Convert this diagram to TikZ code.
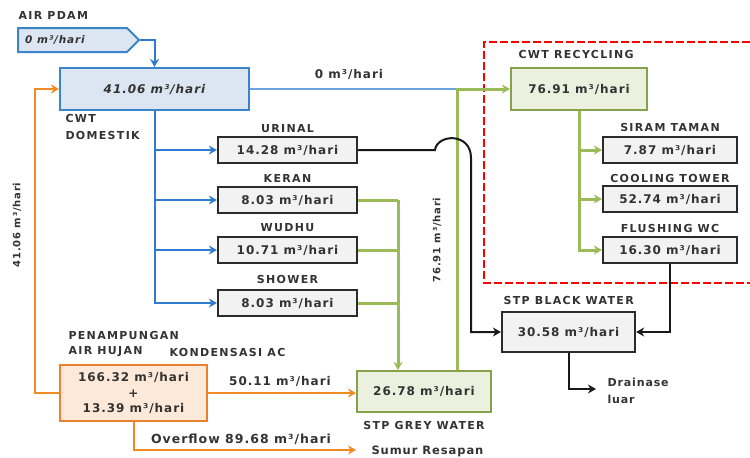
\documentclass[tikz,border=0pt]{standalone}
\usepackage{fontspec}
\setmainfont{DejaVu Sans}
\newfontfamily\vfont[LetterSpace=8]{DejaVu Sans}
\newfontfamily\tfont[LetterSpace=12]{DejaVu Sans}
\usetikzlibrary{arrows.meta,shapes.symbols}
\definecolor{txt}{HTML}{333333}
\definecolor{bline}{HTML}{2E7BCF}
\definecolor{bfill}{HTML}{DCE6F2}
\definecolor{bedge}{HTML}{3A84C9}
\definecolor{gline}{HTML}{9BBB59}
\definecolor{gfill}{HTML}{EBF1DE}
\definecolor{gedge}{HTML}{86A34A}
\definecolor{oline}{HTML}{F08A24}
\definecolor{ofill}{HTML}{FDE9D9}
\definecolor{oedge}{HTML}{E9822E}
\definecolor{grfill}{HTML}{F2F2F2}
\definecolor{gredge}{HTML}{2B2B2B}
\tikzset{
  val/.style={font=\vfont\bfseries\fontsize{12}{14}\selectfont, text=txt},
  vali/.style={font=\vfont\bfseries\itshape\fontsize{12}{14}\selectfont, text=txt},
  ttl/.style={font=\tfont\bfseries\fontsize{11}{13}\selectfont, text=txt},
  sml/.style={font=\vfont\bfseries\fontsize{10}{15}\selectfont, text=txt},
  graybox/.style={draw=gredge, fill=grfill, line width=2.2pt, minimum width=139pt, minimum height=26pt, inner sep=0pt, val},
  bluebox/.style={draw=bedge, fill=bfill, line width=2pt, inner sep=0pt, vali},
  greenbox/.style={draw=gedge, fill=gfill, line width=2pt, inner sep=0pt, val},
  orangebox/.style={draw=oedge, fill=ofill, line width=2pt, inner sep=0pt, val, align=center},
  tip/.style={-{Stealth[length=8pt,width=9pt,inset=2.5pt]}},
  bl/.style={draw=bline, line width=2pt},
  gl/.style={draw=gline, line width=3pt},
  kl/.style={draw=black!90, line width=2pt},
  ol/.style={draw=oline, line width=2pt},
}
\begin{document}
\begin{tikzpicture}[x=1pt,y=-1pt]
\useasboundingbox (0,0) rectangle (750,458);
% red dashed recycling zone
\draw[red, line width=2pt, dash pattern=on 8pt off 3pt] (750,42) -- (484,42) -- (484,283) -- (750,283);

% nodes
\node[draw=bedge, fill=bfill, line width=2pt, signal, signal to=east, minimum width=121pt, minimum height=24pt, inner sep=0pt] (pdam) at (72.5,40) {};
\node[vali, font=\vfont\bfseries\itshape\fontsize{10.5}{12}\selectfont] (pdamt) at (55,40) {0 m³/hari};
\node[ttl, anchor=west] (pdaml) at (15,15) {AIR PDAM};

\node[bluebox, minimum width=189pt, minimum height=42pt] (cwt) at (154.5,89) {41.06 m³/hari};
\node[ttl, anchor=west] (cwtl1) at (62,118) {CWT};
\node[ttl, anchor=west] (cwtl2) at (62,135) {DOMESTIK};

\node[graybox] (u) at (287.5,150) {14.28 m³/hari};
\node[ttl] (ul) at (287.5,129) {URINAL};
\node[graybox] (k) at (287.5,200) {8.03 m³/hari};
\node[ttl] (kl) at (287.5,178) {KERAN};
\node[graybox] (w) at (287.5,250) {10.71 m³/hari};
\node[ttl] (wl) at (287.5,228) {WUDHU};
\node[graybox] (s) at (287.5,303) {8.03 m³/hari};
\node[ttl] (sl) at (287.5,279) {SHOWER};

\node[greenbox, minimum width=136pt, minimum height=42pt] (rc) at (579,89) {76.91 m³/hari};
\node[ttl, anchor=west] (rcl) at (515,54) {CWT RECYCLING};
\node[graybox, minimum width=134pt] (st) at (670,150) {7.87 m³/hari};
\node[ttl] (stl) at (670,127) {SIRAM TAMAN};
\node[graybox, minimum width=134pt] (ct) at (670,199) {52.74 m³/hari};
\node[ttl] (ctl) at (670,178) {COOLING TOWER};
\node[graybox, minimum width=134pt] (fw) at (670,250) {16.30 m³/hari};
\node[ttl] (fwl) at (670,228) {FLUSHING WC};

\node[graybox, minimum width=133pt, minimum height=40pt] (sb) at (568.5,332) {30.58 m³/hari};
\node[ttl, anchor=west] (sbl) at (500,300) {STP BLACK WATER};

\node[greenbox, minimum width=134pt, minimum height=41pt] (sg) at (424,391.5) {26.78 m³/hari};
\node[ttl] (sgl) at (424,425) {STP GREY WATER};

\node[orangebox, minimum width=147pt, minimum height=56pt] (pn) at (133.5,393) {166.32 m³/hari\\[1.5pt]+\\[1.5pt]13.39 m³/hari};
\node[ttl, anchor=west] (pnl1) at (65,335) {PENAMPUNGAN};
\node[ttl, anchor=west] (pnl2) at (65,352) {AIR HUJAN};
\node[ttl, anchor=west] (pnl3) at (166,352) {KONDENSASI AC};

% coordinates
\coordinate (J) at (457,89);
\coordinate (gx) at (398,200);
\coordinate (hopA) at (435,150);
\coordinate (hopB) at (471,158);
\coordinate (oc) at (35,250);
\coordinate (dr) at (596,389);
\coordinate (ov) at (356,450);

% blue
\draw[bl, tip] (pdam.east) -| (cwt.north);
\draw[bl, tip] (cwt.south) |- (s.west);
\draw[bl, tip] (cwt.south |- u.west) -- (u.west);
\draw[bl, tip] (cwt.south |- k.west) -- (k.west);
\draw[bl, tip] (cwt.south |- w.west) -- (w.west);
\draw[bl, draw=bline!70!white] (cwt.east) -- (J);
\node[val] (l0) at (349,74) {0 m³/hari};

% green
\draw[gl, tip] (J |- sg.north) -- (J) -- (rc.west);
\node[sml, rotate=90] (l76) at (437,240) {76.91 m³/hari};
\draw[gl] (k.east) -- (gx);
\draw[gl] (w.east) -- (gx |- w.east);
\draw[gl] (s.east) -- (gx |- s.east);
\draw[gl, tip] (gx) -- (gx |- sg.north);
\draw[gl, tip] (rc.south) |- (fw.west);
\draw[gl, tip] (rc.south |- st.west) -- (st.west);
\draw[gl, tip] (rc.south |- ct.west) -- (ct.west);

% black
\draw[kl, tip] (u.east) -- (hopA) .. controls (437,134) and (471,132) .. (hopB) -- (hopB |- sb.west) -- (sb.west);
\draw[kl, tip] (fw.south) |- (sb.east);
\draw[kl, tip] (sb.south) |- (dr);
\node[sml, font=\vfont\bfseries\fontsize{11}{17}\selectfont, anchor=west, align=left] (drl) at (604,391) {Drainase\\luar};

% orange
\draw[ol, tip] (pn.west) -| (oc) |- (cwt.west);
\node[sml, rotate=90] (l41) at (17,225) {41.06 m³/hari};
\draw[ol, tip] (pn.east) -- (pn.east -| sg.west);
\node[val] (l50) at (280,381) {50.11 m³/hari};
\draw[ol, tip] (pn.south) |- (ov);
\node[val, font=\vfont\bfseries\fontsize{12.5}{14}\selectfont] (lov) at (241,439) {Overflow 89.68 m³/hari};
\node[sml, font=\vfont\bfseries\fontsize{11.5}{13}\selectfont, anchor=west] (sr) at (368,451) {Sumur Resapan};
\end{tikzpicture}
\end{document}
